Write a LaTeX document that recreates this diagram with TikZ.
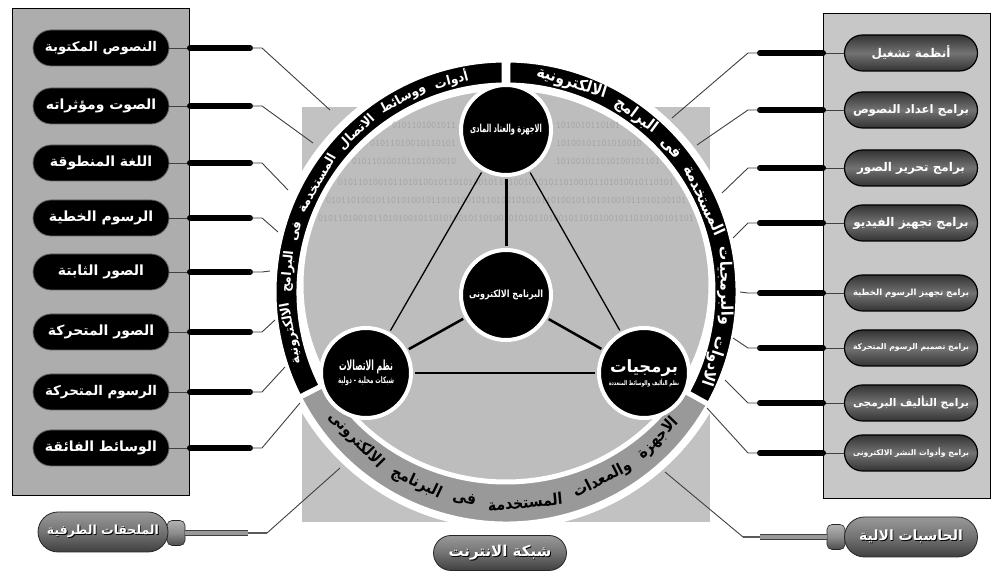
\documentclass[tikz,border=0pt]{standalone}
\usepackage{fontspec}
\usepackage{graphicx}
\usetikzlibrary{shapes.misc}
\TeXXeTstate=1
\newfontfamily\arabicfont[Script=Arabic]{DejaVu Sans}
\newcommand\artxt[1]{\arabicfont\bfseries #1}
\newsavebox\fitbox
\newcommand\fitto[2]{\sbox\fitbox{#2}\ifdim\wd\fitbox>#1\relax\resizebox{#1}{!}{\usebox\fitbox}\else\usebox\fitbox\fi}
\newcommand\pilltext[3]{\fitto{#1}{\fontsize{#2}{#2}\selectfont\artxt{#3}}}
\newcommand\shtxt[1]{\leavevmode\rlap{\kern0.9pt\raisebox{-0.9pt}{\textcolor{black}{#1}}}\textcolor{white}{#1}}
\makeatletter
\newdimen\arcwl
\newdimen\arctot
\newcount\arcn
% measure the words of one arc text (outside the picture)
\newcommand\measurewords[3]{%
  \arctot=0pt \arcn=0
  \@for\mw:=#3\do{%
    \sbox\fitbox{#2\artxt{\mw}}%
    \arcwl=\wd\fitbox
    \advance\arcn by 1
    \expandafter\xdef\csname mw@#1@\the\arcn\endcsname{\strip@pt\arcwl}%
    \advance\arctot by \arcwl
  }%
  \expandafter\xdef\csname mw@#1@tot\endcsname{\strip@pt\arctot}%
  \expandafter\xdef\csname mw@#1@n\endcsname{\the\arcn}%
}
\makeatother
\newcounter{arcw}
% #1 tag, #2 centre angle, #3 span, #4 reading direction (+1 ccw, -1 cw), #5 radius,
% #6 rotation offset, #7 font/colour, #8 words in reading order, #9 gap (pt)
\newcommand\arcwords[9]{%
  \edef\tmpt{\csname mw@#1@tot\endcsname}%
  \edef\tmpn{\csname mw@#1@n\endcsname}%
  \pgfmathsetmacro\arcsum{\tmpt/(#5)*180/pi}%
  \pgfmathsetmacro\arcgap{(#9)/(#5)*180/pi}%
  \pgfmathsetmacro\arcf{((#3)-(\tmpn-1)*\arcgap)/\arcsum}%
  \pgfmathsetmacro\tmpa{(#2)-(#4)*(#3)/2}%
  \xdef\arcpos{\tmpa}%
  \foreach \w [count=\k] in {#8}{%
    \edef\tmpw{\csname mw@#1@\k\endcsname}%
    \pgfmathsetmacro\arcwa{\arcf*\tmpw/(#5)*180/pi}%
    \pgfmathsetmacro\arcmid{\arcpos+(#4)*\arcwa/2}%
    \pgfmathsetmacro\arcrot{\arcmid+(#6)}%
    \stepcounter{arcw}%
    \node[inner sep=0pt, rotate=\arcrot] (arcw\thearcw) at ([shift={(\arcmid:#5)}]C) {\scalebox{\arcf}[1]{#7\artxt{\beginR\w\endR}}};
    \pgfmathsetmacro\tmpa{\arcpos+(#4)*(\arcwa+\arcgap)}%
    \xdef\arcpos{\tmpa}%
  }%
}
\newcommand\binpiece[5]{\node[inner sep=0pt, text=black!36] (#1) at (#2,#3) {\resizebox*{#4pt}{6.5pt}{\ttfamily #5}};}
\tikzset{
  lpill/.style={rounded rectangle, fill=black, draw=black!60, line width=0.8pt, minimum width=136pt, minimum height=36pt, inner sep=0pt},
  rpill/.style={rounded rectangle, top color=black!80, bottom color=black!80, middle color=black!55, draw=black, line width=1.2pt, minimum width=133pt, minimum height=36pt, inner sep=0pt},
  gpill/.style={rounded rectangle, top color=black!40, bottom color=black!75, middle color=black!55, draw=black!85, line width=0.8pt, inner sep=0pt},
  gcollar/.style={rectangle, rounded corners=5pt, top color=black!30, bottom color=black!70, middle color=black!45, draw=black!85, line width=0.6pt, inner sep=0pt, minimum width=18pt, minimum height=25pt},
  bignode/.style={circle, fill=black, draw=white, line width=4pt, minimum size=90pt, inner sep=0pt, text=white, align=center},
  panel/.style={draw=black, line width=0.8pt},
  thinline/.style={draw=black!75, line width=0.9pt},
  barline/.style={line width=6pt, draw=black, line cap=round},
}
\begin{document}
\measurewords{L}{\fontsize{13}{13}\selectfont}{أدوات,ووسائط,الاتصال,المستخدمة,فى,البرامج,الالكترونية}%
\measurewords{R}{\fontsize{16}{16}\selectfont}{الادوات,والبرمجيات,المستخدمة,فى,البرامج,الالكترونية}%
\measurewords{B}{\fontsize{16}{16}\selectfont}{الاجهزة,والمعدات,المستخدمة,فى,البرنامج,الالكترونى}%
\begin{tikzpicture}[x=1pt,y=1pt]
\useasboundingbox (0,0) rectangle (996,572);
\fill[white] (0,0) rectangle (996,572);

% side panels
\draw[panel, fill=black!32] (12,77) rectangle (189,564);
\draw[panel, fill=black!22] (823,74) rectangle (990,559);

% grey background square
\fill[black!24] (302,50) rectangle (710,465);

% ring
\coordinate (C) at (506,280);
\fill[white] (C) circle (237);
\fill[black!40, draw=white, line width=5pt] (C) -- ([shift={(207:232)}]C) arc[start angle=207, end angle=331, radius=232] -- cycle;
\fill[black, draw=white, line width=5pt] ([shift={(90.5:232)}]C) arc[start angle=90.5, end angle=207, radius=232] -- ([shift={(207:207)}]C) arc[start angle=207, end angle=90.5, radius=207] -- cycle;
\fill[black, draw=white, line width=5pt] ([shift={(-29:232)}]C) arc[start angle=-29, end angle=89.5, radius=232] -- ([shift={(89.5:207)}]C) arc[start angle=89.5, end angle=-29, radius=207] -- cycle;

% interior disc
\filldraw[fill=black!26, draw=white, line width=5pt] (506,287) ellipse [x radius=205, y radius=197];
\binpiece{b1l}{424}{447}{64}{0101101001011}
\binpiece{b1r}{588}{447}{64}{1010010110101}
\binpiece{b2l}{413}{429}{86}{01011010010110101}
\binpiece{b2r}{599}{429}{86}{10100101101010010}
\binpiece{b3l}{404}{411}{104}{010110100101101010010}
\binpiece{b3r}{608}{411}{104}{101001011010100101101}
\binpiece{b4}{506}{390}{336}{0101101001011010100101101010010110100101010110100101101010010110101}
\binpiece{b5}{506}{372}{360}{010110100101101010010110101001011010010101011010010110101001011010100101}
\binpiece{b6}{506}{354}{376}{010110100101101010010110101001011010010101011010010110101001011010100101101}

% ring texts
\arcwords{L}{149.5}{99}{1}{219}{-90}{\color{white}\fontsize{13}{13}\selectfont}{أدوات,ووسائط,الاتصال,المستخدمة,فى,البرامج,الالكترونية}{10}
\arcwords{R}{28.5}{107}{1}{219}{-90}{\color{white}\fontsize{16}{16}\selectfont}{الادوات,والبرمجيات,المستخدمة,فى,البرامج,الالكترونية}{12}
\arcwords{B}{-91}{108}{-1}{211}{90}{\color{black}\fontsize{16}{16}\selectfont}{الاجهزة,والمعدات,المستخدمة,فى,البرنامج,الالكترونى}{12}

% central nodes
\node[bignode] (top) at (506,442) {\resizebox*{72pt}{11pt}{\artxt{\beginR الاجهزة والعتاد المادى\endR}}};
\node[bignode] (mid) at (506,277) {\resizebox*{74pt}{10pt}{\artxt{\beginR البرنامج الالكترونى\endR}}};
\node[bignode] (lft) at (366,199) {\resizebox*{54pt}{14pt}{\artxt{\beginR نظم الاتصالات\endR}}\\[1pt]\resizebox*{56pt}{9pt}{\artxt{\beginR شبكات محلية - دولية\endR}}};
\node[bignode] (rgt) at (644,199) {\resizebox*{68pt}{17pt}{\artxt{\beginR برمجيات\endR}}\\[1pt]\resizebox*{70pt}{8pt}{\artxt{\beginR نظم التأليف والوسائط المتعددة\endR}}};
\draw[line width=1.3pt, shorten <=2pt, shorten >=2pt] (top) -- (lft);
\draw[line width=1.3pt, shorten <=2pt, shorten >=2pt] (top) -- (rgt);
\draw[line width=3pt, shorten <=2pt, shorten >=2pt] (top) -- (mid);
\draw[line width=2.5pt, shorten <=2pt, shorten >=2pt] (mid) -- (lft);
\draw[line width=2.5pt, shorten <=2pt, shorten >=2pt] (mid) -- (rgt);
\draw[line width=2pt, shorten <=2pt, shorten >=2pt] (lft) -- (rgt);

% left pills
\foreach \i/\y/\t/\ex/\ey in {1/524/{\beginR النصوص المكتوبة\endR}/330/462, 2/466/{\beginR الصوت ومؤثراته\endR}/313/429, 3/409/{\beginR اللغة المنطوقة\endR}/288/382, 4/354/{\beginR الرسوم الخطية\endR}/278/340, 5/300/{\beginR الصور الثابتة\endR}/270/301, 6/240/{\beginR الصور المتحركة\endR}/275/252, 7/180/{\beginR الرسوم المتحركة\endR}/285/205, 8/124/{\beginR الوسائط الفائقة\endR}/300/169} {
  \node[lpill] (lp\i) at (101,\y) {\color{white}\pilltext{112pt}{14}{\t}};
  \coordinate (lb\i) at (190,\y);
  \coordinate (lc\i) at (250,\y);
  \coordinate (lk\i) at (262,\y);
  \coordinate (le\i) at (\ex,\ey);
  \draw[thinline] (lp\i.east) -- (lb\i);
  \draw[barline] (lb\i) -- (lc\i);
  \draw[thinline] (lc\i) -- (lk\i) -- (le\i);
}

% right pills
\foreach \i/\y/\t/\ex/\ey in {1/519/{\beginR أنظمة تشغيل\endR}/672/454, 2/462/{\beginR برامج اعداد النصوص\endR}/697/427, 3/404/{\beginR برامج تحرير الصور\endR}/722/379, 4/349/{\beginR برامج تجهيز الفيديو\endR}/733/334, 5/279/{\beginR برامج تجهيز الرسوم الخطية\endR}/740/280, 6/224/{\beginR برامج تصميم الرسوم المتحركة\endR}/733/234, 7/169/{\beginR برامج التأليف البرمجى\endR}/725/192, 8/119/{\beginR برامج وأدوات النشر الالكترونى\endR}/707/164} {
  \node[rpill] (rp\i) at (911,\y) {\color{white}\pilltext{116pt}{12}{\t}};
  \coordinate (rb\i) at (823,\y);
  \coordinate (rc\i) at (760,\y);
  \coordinate (rk\i) at (748,\y);
  \coordinate (re\i) at (\ex,\ey);
  \draw[thinline] (rp\i.west) -- (rb\i);
  \draw[barline] (rb\i) -- (rc\i);
  \draw[thinline] (rc\i) -- (rk\i) -- (re\i);
}

% bottom left assembly
\node[gcollar] (blc) at (176,39) {};
\node[gpill, minimum width=130pt, minimum height=40pt] (bl) at (103,40) {\shtxt{\pilltext{112pt}{14}{\beginR الملحقات الطرفية\endR}}};
\coordinate (bls) at (248,39);
\coordinate (blk) at (267,39);
\coordinate (ble) at (340,104);
\draw[line width=6pt, black!75] (blc.east) -- (bls);
\draw[line width=3.5pt, black!40] (blc.east) -- (bls);
\draw[line width=2pt, black!65] (bls) -- (blk);
\draw[thinline] (blk) -- (ble);

% bottom right assembly
\node[gcollar] (brc) at (836,35) {};
\node[gpill, minimum width=133pt, minimum height=40pt] (br) at (911,35) {\shtxt{\pilltext{112pt}{14}{\beginR الحاسبات الالية\endR}}};
\coordinate (brs) at (760,35);
\coordinate (brk) at (743,35);
\coordinate (bre) at (665,100);
\draw[line width=6pt, black!75] (brc.west) -- (brs);
\draw[line width=3.5pt, black!40] (brc.west) -- (brs);
\draw[line width=2pt, black!65] (brs) -- (brk);
\draw[thinline] (brk) -- (bre);

% internet
\node[gpill, minimum width=133pt, minimum height=35pt] (net) at (500,19) {\shtxt{\pilltext{108pt}{15}{\beginR شبكة الانترنت\endR}}};
\end{tikzpicture}
\end{document}
